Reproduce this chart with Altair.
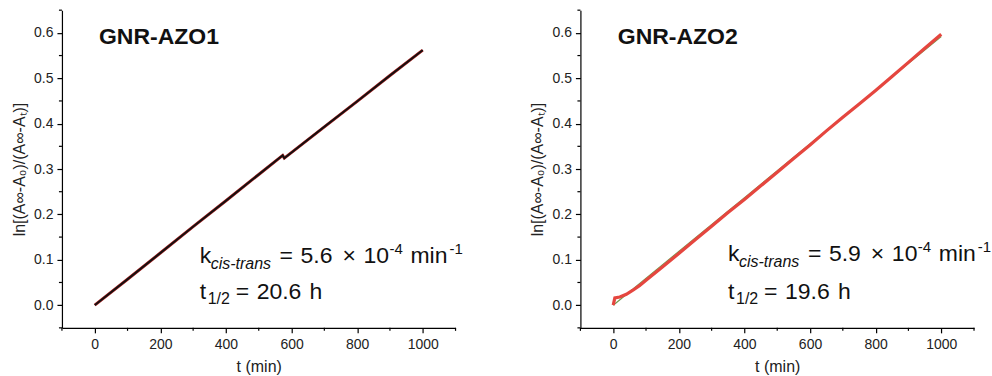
import altair as alt
import pandas as pd

FONT = "Liberation Sans"

# ---- data ----
# GNR-AZO1 (black data trace with a small step near 575 min)
azo1_t = [0, 100, 200, 300, 400, 500, 573, 578, 700, 800, 900, 1000]
azo1_y = [0.0, 0.057, 0.115, 0.173, 0.230, 0.288, 0.330, 0.324, 0.393, 0.449, 0.506, 0.562]

# GNR-AZO2 (red data trace) and its linear fit (green)
azo2_t = [0, 5, 20, 40, 60, 80, 100, 150, 200, 250, 300, 350, 400, 450, 500,
          550, 600, 650, 700, 750, 800, 850, 900, 950, 1000]
azo2_y = [0.0, 0.016, 0.018, 0.024, 0.033, 0.043, 0.055, 0.084, 0.114, 0.144,
          0.174, 0.204, 0.233, 0.263, 0.293, 0.323, 0.353, 0.384, 0.414, 0.443,
          0.473, 0.504, 0.535, 0.566, 0.597]
azo2_fit_t = [0, 1000]
azo2_fit_y = [0.0, 0.592]

names = ["GNR-AZO1", "GNR-AZO2"]
k_values = ["5.6", "5.9"]
half_lives = ["20.6", "19.6"]
ann_t = [320, 350]          # annotation anchor (min)
ann_line1 = [0.094, 0.098]  # annotation baselines (data units)
ann_line2 = [0.0135, 0.014]
name_t = [13, 14]
name_y = [0.576, 0.576]

x_major = [0, 200, 400, 600, 800, 1000]
x_minor = [-100, 100, 300, 500, 700, 900, 1100]
y_major = [0.0, 0.1, 0.2, 0.3, 0.4, 0.5, 0.6]
y_minor = [-0.05, 0.05, 0.15, 0.25, 0.35, 0.45, 0.55, 0.65]

W, H = 394, 318

xs = alt.Scale(domain=[-100, 1100], nice=False, zero=False)
ys = alt.Scale(domain=[-0.05, 0.65], nice=False, zero=False)

common_axis = dict(
    grid=False, domainColor="black", tickColor="black", domainWidth=1.2,
    tickWidth=1.2, tickSize=5, labelFontSize=14, titleFontSize=16, labelColor="#222",
    titleColor="#222", titleFontWeight="normal", labelFont=FONT, titleFont=FONT,
    labelOverlap=False, labelFlush=False,
)

xaxis = alt.Axis(values=x_major, format="d", labelPadding=5, titlePadding=7, **common_axis)
yaxis = alt.Axis(values=y_major, format=".1f", labelPadding=4, titlePadding=6, **common_axis)
XT = "t (min)"
YT = "ln[(A∞-A₀)/(A∞-Aₜ)]"


def ex():
    return alt.X("t:Q", scale=xs, axis=xaxis, title=XT)


def ey():
    return alt.Y("v:Q", scale=ys, axis=yaxis, title=YT)


def text_piece(df, text, dx, dy, size, style="normal", weight="normal"):
    return alt.Chart(df).mark_text(
        text=text, align="left", baseline="alphabetic", dx=dx, dy=dy,
        fontSize=size, font=FONT, fontStyle=style, fontWeight=weight, color="#111",
    ).encode(x=ex(), y=ey())


def annotations(i):
    l1 = pd.DataFrame({"t": [ann_t[i]], "v": [ann_line1[i]]})
    l2 = pd.DataFrame({"t": [ann_t[i]], "v": [ann_line2[i]]})
    nm = pd.DataFrame({"t": [name_t[i]], "v": [name_y[i]]})
    return [
        text_piece(nm, names[i], 0, 0, 23, weight="bold"),
        text_piece(l1, "k", 0, 0, 23),
        text_piece(l1, "cis-trans", 11, 6, 16, style="italic"),
        text_piece(l1, "=", 80, 0, 23),
        text_piece(l1, k_values[i], 101, 0, 23),
        text_piece(l1, "×", 143, 0, 23),
        text_piece(l1, "10", 164, 0, 23),
        text_piece(l1, "-4", 190, -8.5, 15),
        text_piece(l1, "min", 211, 0, 23),
        text_piece(l1, "-1", 250, -8.5, 15),
        text_piece(l2, "t", 0, 0, 23),
        text_piece(l2, "1/2", 8, 5, 16),
        text_piece(l2, "=", 36, 0, 23),
        text_piece(l2, half_lives[i], 57, 0, 23),
        text_piece(l2, "h", 110, 0, 23),
    ]


def minor_ticks():
    xminor = alt.Chart(pd.DataFrame({"t": x_minor})).mark_rule(
        color="black", strokeWidth=1.2
    ).encode(x=ex(), y=alt.value(H), y2=alt.value(H + 3))
    yminor = alt.Chart(pd.DataFrame({"v": y_minor})).mark_rule(
        color="black", strokeWidth=1.2
    ).encode(y=ey(), x=alt.value(0), x2=alt.value(-3))
    return [xminor, yminor]


# Left panel: black data trace with a dark-red fringe
d1 = pd.DataFrame({"t": azo1_t, "v": azo1_y})
left_layers = [
    alt.Chart(d1).mark_line(color="#9e1b1b", strokeWidth=3.0).encode(x=ex(), y=ey()),
    alt.Chart(d1).mark_line(color="#111111", strokeWidth=1.8).encode(x=ex(), y=ey()),
]
left = alt.layer(*left_layers, *minor_ticks(), *annotations(0)).properties(width=W, height=H)

# Right panel: green fit under the red data trace
d2 = pd.DataFrame({"t": azo2_t, "v": azo2_y})
f2 = pd.DataFrame({"t": azo2_fit_t, "v": azo2_fit_y})
right_layers = [
    alt.Chart(f2).mark_line(color="#6f9a4c", strokeWidth=1.2).encode(x=ex(), y=ey()),
    alt.Chart(d2).mark_line(color="#e5463f", strokeWidth=3.2).encode(x=ex(), y=ey()),
]
right = alt.layer(*right_layers, *minor_ticks(), *annotations(1)).properties(width=W, height=H)

chart = alt.hconcat(left, right, spacing=125, bounds="flush").properties(
    padding={"left": 11, "top": 9, "right": 0, "bottom": 0}
).configure(font=FONT, view=alt.ViewConfig(stroke=None))

chart.save("out.html", embed_options={"renderer": "svg", "actions": False})
